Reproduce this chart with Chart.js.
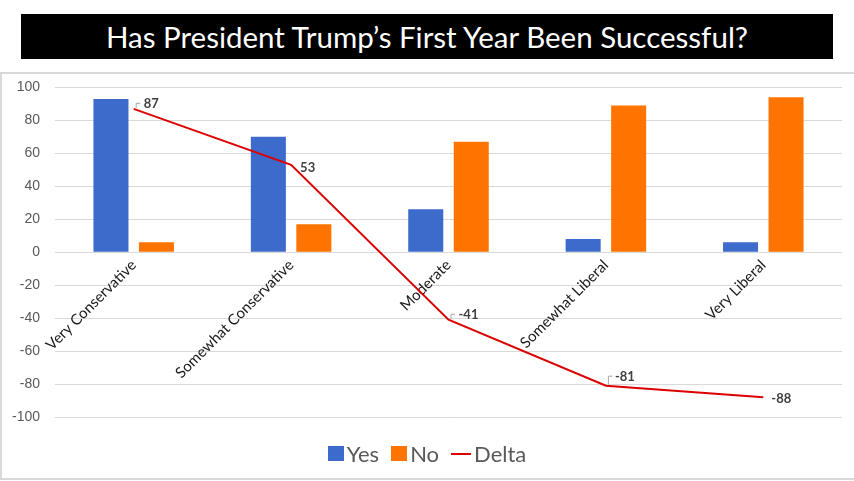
<!DOCTYPE html>
<html>
<head>
<meta charset="utf-8">
<script src="https://cdn.jsdelivr.net/npm/chart.js@4.4.1/dist/chart.umd.min.js"></script>
<style>
  html, body { margin: 0; padding: 0; background: #fff; }
  #page { position: relative; width: 854px; height: 481px; overflow: hidden; background: #fff; }
  #title { position: absolute; left: 21px; top: 14px; width: 812px; height: 45px; background: #000; color: #fff;
           font-family: Lato, "Open Sans", sans-serif; font-size: 29.5px; line-height: 45px; text-align: center; }
  #sep { position: absolute; left: 0; top: 72px; width: 854px; height: 2px; background: #d9d9d9; }
  #lborder { position: absolute; left: 0; top: 73px; width: 2px; height: 407px; background: #d9d9d9; }
  #bborder { position: absolute; left: 0; top: 478px; width: 854px; height: 2px; background: #d9d9d9; }
  #wrap { position: absolute; left: 0; top: 64px; width: 854px; height: 414px; }
  #legend { position: absolute; left: 0; top: 440px; width: 854px; display: flex; justify-content: center; align-items: center;
            font-family: Lato, "Open Sans", sans-serif; font-size: 22px; color: #595959; }
  .item { display: flex; align-items: center; margin: 0 6px; }
  .sw { display: inline-block; margin-right: 3px; }
</style>
</head>
<body>
<div id="page">
  <div id="title">Has President Trump’s First Year Been Successful?</div>
  <div id="sep"></div>
  <div id="lborder"></div>
  <div id="bborder"></div>
  <div id="wrap"><canvas id="c"></canvas></div>
  <div id="legend"></div>
</div>
<script>
const categories = ["Very Conservative", "Somewhat Conservative", "Moderate", "Somewhat Liberal", "Very Liberal"];
const yesValues = [93, 70, 26, 8, 6];
const noValues = [6, 17, 67, 89, 94];
const deltaValues = [87, 53, -41, -81, -88];
const yTickMin = -100, yTickMax = 100, yTickStep = 20;

const labelPlugin = {
  id: 'deltaLabels',
  afterDatasetsDraw(chart, args, opts) {
    const meta = chart.getDatasetMeta(2);
    const ctx = chart.ctx;
    ctx.save();
    ctx.font = 'bold 13px Lato, sans-serif';
    ctx.fillStyle = '#404040';
    ctx.textBaseline = 'middle';
    ctx.textAlign = 'left';
    meta.data.forEach((el, i) => {
      const o = opts.offsets[i];
      const tx = el.x + o[0], ty = el.y + o[1];
      if (o[2]) {
        ctx.strokeStyle = '#a6a6a6';
        ctx.lineWidth = 1;
        ctx.beginPath();
        ctx.moveTo(el.x + 2.5, el.y - 1);
        ctx.lineTo(el.x + 2.5, ty - 0.5);
        ctx.lineTo(el.x + 6.5, ty - 0.5);
        ctx.stroke();
      }
      ctx.fillText(String(deltaValues[i]), tx, ty);
    });
    ctx.restore();
  }
};

const chart = new Chart(document.getElementById('c'), {
  data: {
    labels: categories,
    datasets: [
      { type: 'bar', label: 'Yes', data: yesValues, backgroundColor: '#3c6bcb', order: 1,
        categoryPercentage: 0.578, barPercentage: 0.77 },
      { type: 'bar', label: 'No', data: noValues, backgroundColor: '#ff7400', order: 1,
        categoryPercentage: 0.578, barPercentage: 0.77 },
      { type: 'line', label: 'Delta', data: deltaValues, borderColor: '#dc0000', backgroundColor: '#dc0000',
        borderWidth: 2, pointRadius: 0, tension: 0, order: 0 }
    ]
  },
  options: {
    responsive: true,
    maintainAspectRatio: false,
    animation: false,
    layout: { padding: { top: 5, right: 12, bottom: 61, left: 0 } },
    plugins: {
      legend: { display: false },
      tooltip: { enabled: false },
      deltaLabels: { offsets: [[10, -5, true], [9, 2.5, false], [10, -5, true], [9, -9, true], [8, 2, false]] }
    },
    scales: {
      x: {
        position: { y: 0 },
        grid: { display: false, drawTicks: false },
        border: { display: false },
        ticks: { minRotation: 45, maxRotation: 45, autoSkip: false, padding: 4,
                 font: { family: 'Lato', size: 15 }, color: '#1a1a1a' }
      },
      y: {
        min: yTickMin, max: yTickMax,
        grid: { color: '#d9d9d9', lineWidth: 1, drawTicks: false },
        border: { display: false },
        ticks: { stepSize: yTickStep, padding: 15, font: { family: 'Liberation Sans', size: 14 }, color: '#595959' },
        afterFit(s) { s.width = 55; }
      }
    }
  },
  plugins: [labelPlugin]
});

const legend = document.getElementById('legend');
chart.data.datasets.forEach(ds => {
  const item = document.createElement('span');
  item.className = 'item';
  const sw = document.createElement('span');
  sw.className = 'sw';
  if (ds.type === 'line') {
    sw.style.width = '20px'; sw.style.height = '2px'; sw.style.background = ds.borderColor;
  } else {
    sw.style.width = '16px'; sw.style.height = '15px'; sw.style.background = ds.backgroundColor;
  }
  const t = document.createElement('span');
  t.textContent = ds.label;
  item.appendChild(sw); item.appendChild(t);
  legend.appendChild(item);
});
</script>
</body>
</html>
